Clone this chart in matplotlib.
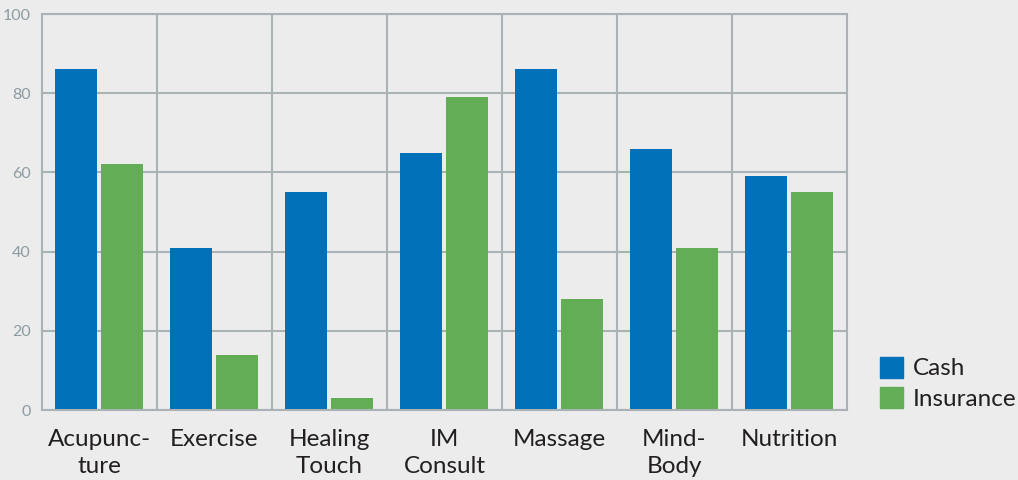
import matplotlib
matplotlib.use("Agg")
import matplotlib.pyplot as plt
import numpy as np
from matplotlib.patches import Patch

categories = ["Acupunc-\nture", "Exercise", "Healing\nTouch", "IM\nConsult", "Massage", "Mind-\nBody", "Nutrition"]
cash = [86, 41, 55, 65, 86, 66, 59]
insurance = [62, 14, 3, 79, 28, 41, 55]
yticks = [0, 20, 40, 60, 80, 100]

BG = "#ebeceb"
BLUE = "#0070b8"
GREEN = "#63ad56"
GRID = "#a9b3b5"
TICK = "#8c9ca2"
TEXT = "#231f20"

plt.rcParams['font.family'] = ['Lato', 'DejaVu Sans']

fig = plt.figure(figsize=(10.18, 4.8), dpi=100, facecolor=BG)
ax = fig.add_axes([42/1018, 1-410/480, 805/1018, 396/480], facecolor=BG)

x = np.arange(len(categories))
w = 0.365
ax.bar(x + 0.113, cash, width=w, align='edge', color=BLUE, zorder=3, label="Cash")
ax.bar(x + 0.513, insurance, width=w, align='edge', color=GREEN, zorder=3, label="Insurance")

ax.set_xlim(0, len(categories))
ax.set_ylim(0, 100)
ax.set_yticks(yticks)
ax.set_yticklabels([str(v) for v in yticks], color=TICK, fontsize=11.5)
ax.set_xticks(x + 0.5)
ax.set_xticklabels(categories, color=TEXT, fontsize=17.5, linespacing=1.33)
ax.set_xticks(np.arange(1, len(categories)), minor=True)
ax.tick_params(axis='both', which='both', length=0)
ax.tick_params(axis='x', pad=14)
ax.tick_params(axis='y', pad=8)

ax.yaxis.grid(True, color=GRID, linewidth=1.5, zorder=1)
ax.xaxis.grid(True, which='minor', color=GRID, linewidth=1.5, zorder=1)
ax.xaxis.grid(False, which='major')
for s in ax.spines.values():
    s.set_color(GRID)
    s.set_linewidth(1.5)
    s.set_zorder(4)

handles = [Patch(color=BLUE, label="Cash"), Patch(color=GREEN, label="Insurance")]
fig.legend(handles=handles, loc='lower left', bbox_to_anchor=(880/1018, 1-410/480),
           frameon=False, fontsize=17.5, handlelength=0.95, handleheight=0.95,
           handletextpad=0.4, labelspacing=0.32, labelcolor=TEXT, borderpad=0.0,
           borderaxespad=0.0)

fig.savefig("out.png", dpi=100, facecolor=BG)
